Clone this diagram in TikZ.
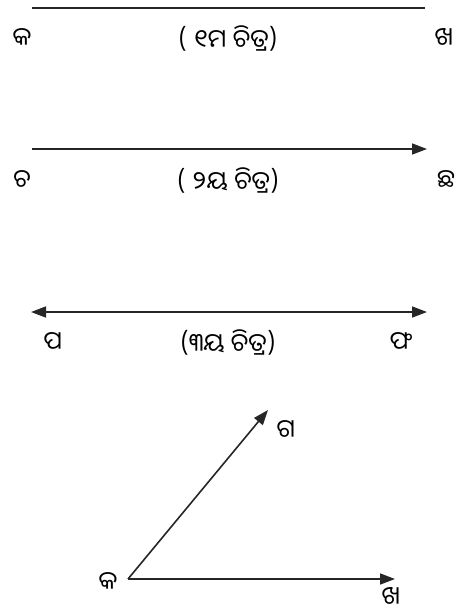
\documentclass[tikz,border=0pt]{standalone}
\usepackage{fontspec}
\usepackage{tikz}
\usetikzlibrary{arrows.meta,positioning}
\newfontfamily\odia[Script=Oriya]{Noto Sans Oriya UI}

\begin{document}
\begin{tikzpicture}[x=1pt,y=-1pt,
  font=\odia\fontsize{25}{28}\selectfont,
  ray/.style={line width=1.6pt,black!85},
  tip/.style={-{Triangle[length=15pt,width=11pt]}},
  lbl/.style={inner sep=1pt,anchor=center}]
  \useasboundingbox (0,0) rectangle (466,616);
  % 1st figure: segment
  \coordinate (k1) at (32,8);
  \coordinate (kh1) at (425,8);
  \draw[ray] (k1) -- (kh1);
  \node[lbl] (ka1) at (22,38) {କ};
  \node[lbl] (kha1) at (444,38) {ଖ};
  \node[lbl] (cap1) at (228,38) {( ୧ମ ଚିତ୍ର)};
  % 2nd figure: ray
  \coordinate (c2) at (32,149);
  \coordinate (ch2) at (427,149);
  \draw[ray,tip] (c2) -- (ch2);
  \node[lbl] (ca2) at (22,180) {ଚ};
  \node[lbl] (cha2) at (446,180) {ଛ};
  \node[lbl] (cap2) at (228,180) {( ୨ୟ ଚିତ୍ର)};
  % 3rd figure: line
  \coordinate (p3) at (31,312);
  \coordinate (ph3) at (427,312);
  \draw[ray,{Triangle[length=15pt,width=11pt]}-{Triangle[length=15pt,width=11pt]}] (p3) -- (ph3);
  \node[lbl] (pa3) at (53,342) {ପ};
  \node[lbl] (pha3) at (401,342) {ଫ};
  \node[lbl] (cap3) at (228,342) {(୩ୟ ଚିତ୍ର)};
  % angle
  \coordinate (v) at (128,579);
  \coordinate (g) at (268,410);
  \coordinate (kh) at (395,579);
  \draw[ray,tip] (v) -- (g);
  \draw[ray,tip] (v) -- (kh);
  \node[lbl] (ka) at (108,582) {କ};
  \node[lbl] (ga) at (286,430) {ଗ};
  \node[lbl] (kha) at (391,597) {ଖ};
\end{tikzpicture}
\end{document}
